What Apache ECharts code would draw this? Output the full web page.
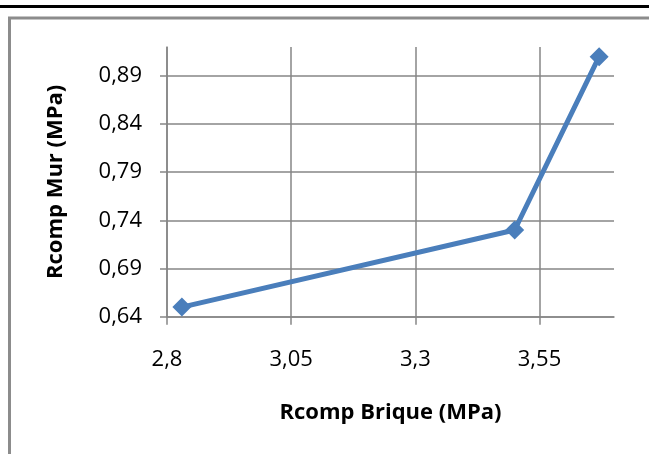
<!DOCTYPE html>
<html>
<head>
<meta charset="utf-8">
<script src="https://cdn.jsdelivr.net/npm/echarts@6/dist/echarts.min.js"></script>
<style>
html,body{margin:0;padding:0;background:#fff;}
#chart{width:649px;height:454px;}
</style>
</head>
<body>
<div id="chart"></div>
<script>
const xTitle = 'Rcomp Brique (MPa)';
const yTitle = 'Rcomp Mur (MPa)';
const briqueValues = [2.83, 3.50, 3.67];
const murValues = [0.65, 0.73, 0.91];
const xTicks = [2.8, 3.05, 3.3, 3.55];
const yTicks = [0.64, 0.69, 0.74, 0.79, 0.84, 0.89];

const fmt = v => {
  const r = Math.round(v * 100) / 100;
  return String(r).replace('.', ',');
};
const font = '"Open Sans", "Liberation Sans", sans-serif';
const gray = '#868686';

const chart = echarts.init(document.getElementById('chart'));
chart.setOption({
  animation: false,
  backgroundColor: '#fff',
  graphic: [
    { type: 'rect', shape: { x: 0, y: 5, width: 649, height: 3 }, style: { fill: '#000' }, silent: true },
    { type: 'rect', shape: { x: 9.5, y: 18, width: 700, height: 500 }, style: { fill: 'none', stroke: '#8c8c8c', lineWidth: 3 }, silent: true }
  ],
  grid: { left: 167, top: 47, right: 35, bottom: 137.3 },
  xAxis: {
    type: 'value',
    min: xTicks[0],
    max: 3.7,
    interval: 0.25,
    name: xTitle,
    nameLocation: 'middle',
    nameGap: 85,
    nameTextStyle: { fontFamily: font, fontWeight: 'bold', fontSize: 22, color: '#000' },
    axisLine: { show: true, lineStyle: { color: gray, width: 1.5 } },
    axisTick: { show: true, length: 8, lineStyle: { color: gray, width: 1.5 } },
    axisLabel: { showMaxLabel: false, margin: 32, fontFamily: font, fontSize: 22, color: '#000', formatter: fmt },
    splitLine: { show: true, showMaxLine: false, lineStyle: { color: gray, width: 1.5 } }
  },
  yAxis: {
    type: 'value',
    min: yTicks[0],
    max: 0.92,
    interval: 0.05,
    name: yTitle,
    nameLocation: 'middle',
    nameGap: 100,
    nameRotate: 90,
    nameTextStyle: { fontFamily: font, fontWeight: 'bold', fontSize: 22, color: '#000' },
    axisLine: { show: true, lineStyle: { color: gray, width: 1.5 } },
    axisTick: { show: true, length: 7, lineStyle: { color: gray, width: 1.5 } },
    axisLabel: { showMaxLabel: false, margin: 25, fontFamily: font, fontSize: 22, color: '#000', formatter: fmt },
    splitLine: { show: true, showMaxLine: false, lineStyle: { color: gray, width: 1.5 } }
  },
  series: [{
    type: 'line',
    data: briqueValues.map((x, i) => [x, murValues[i]]),
    symbol: 'diamond',
    symbolSize: 19,
    lineStyle: { color: '#4a7ebb', width: 5 },
    itemStyle: { color: '#4a7ebb' }
  }]
});
</script>
</body>
</html>
